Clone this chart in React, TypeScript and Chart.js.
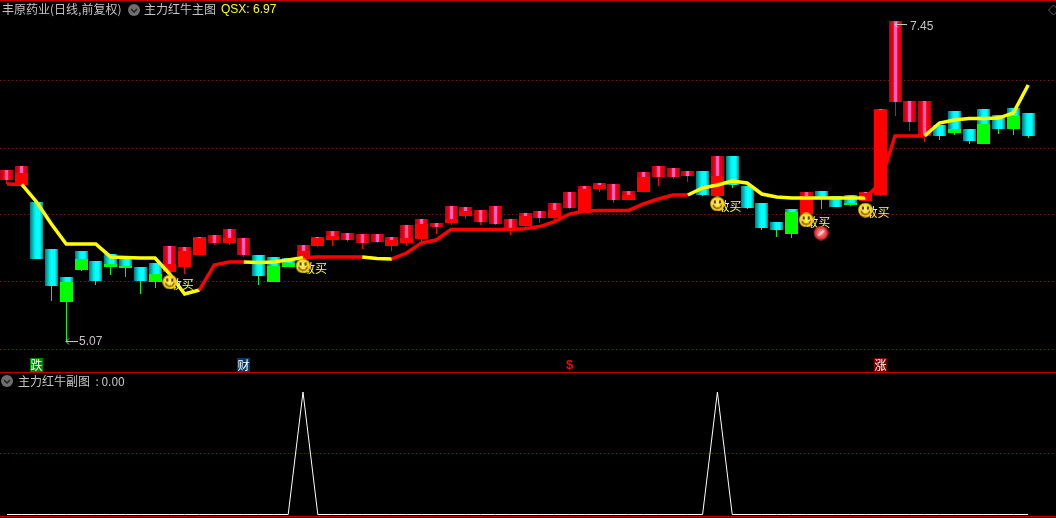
import React, { useEffect, useRef } from "react";
import { Chart, registerables } from "chart.js";

Chart.register(...registerables);

const candleKind = "RRCCCCCCCCCRRRRRRCCCRRRRRRRRRRRRRRRRRRRRRRRRRRRCRCCCCCRCCCRRRRRCCCCCCC".split("");
const bodyHigh = [6.342,6.371,6.104,5.754,5.546,5.739,5.665,5.717,5.695,5.620,5.650,5.776,5.769,5.843,5.858,5.903,5.836,5.710,5.695,5.687,5.784,5.843,5.888,5.873,5.866,5.866,5.843,5.933,5.977,5.947,6.074,6.066,6.044,6.074,5.977,6.022,6.037,6.096,6.178,6.223,6.245,6.237,6.185,6.327,6.371,6.356,6.334,6.334,6.446,6.446,6.223,6.096,5.955,6.052,6.178,6.185,6.148,6.156,6.178,6.795,7.450,6.855,6.855,6.676,6.780,6.647,6.795,6.751,6.803,6.766];
const bodySplit = [6.267,6.319,5.680,5.479,5.509,5.680,5.516,5.642,5.628,5.516,5.568,5.642,5.739,5.836,5.799,5.836,5.710,5.553,5.628,5.650,5.739,5.836,5.851,5.821,5.799,5.806,5.821,5.836,5.940,5.918,5.977,6.037,5.955,5.940,5.910,6.000,5.985,6.044,6.059,6.200,6.230,6.118,6.156,6.290,6.290,6.290,6.297,6.156,6.297,6.230,6.059,5.910,5.895,6.029,6.148,6.133,6.066,6.096,6.171,6.788,6.847,6.699,6.595,6.595,6.647,6.557,6.684,6.647,6.743,6.595];
const bodyLow = [6.267,6.230,5.680,5.479,5.360,5.598,5.516,5.620,5.613,5.516,5.509,5.583,5.620,5.710,5.799,5.799,5.710,5.553,5.509,5.620,5.702,5.776,5.821,5.821,5.799,5.806,5.776,5.799,5.828,5.918,5.947,6.000,5.955,5.940,5.910,5.925,5.985,5.985,6.059,6.022,6.200,6.118,6.118,6.178,6.290,6.290,6.297,6.156,6.148,6.230,6.059,5.910,5.895,5.866,6.014,6.133,6.066,6.081,6.111,6.156,6.847,6.699,6.595,6.595,6.617,6.557,6.535,6.647,6.647,6.595];
const wickLow = [6.237,6.230,5.680,5.367,5.070,5.590,5.486,5.561,5.546,5.419,5.464,5.583,5.568,5.710,5.784,5.784,5.695,5.486,5.509,5.620,5.702,5.769,5.776,5.806,5.754,5.799,5.739,5.776,5.814,5.866,5.933,5.977,5.933,5.933,5.858,5.910,5.947,5.962,6.052,6.022,6.178,6.096,6.118,6.178,6.223,6.275,6.252,6.148,6.148,6.208,6.052,5.895,5.843,5.836,6.014,6.052,6.066,6.074,6.111,6.148,6.743,6.632,6.550,6.565,6.602,6.535,6.535,6.609,6.602,6.580];
const qsxLine = [6.237,6.234,6.104,5.940,5.791,5.791,5.791,5.695,5.691,5.687,5.687,5.568,5.419,5.449,5.635,5.657,5.657,5.654,5.657,5.672,5.691,5.695,5.695,5.695,5.695,5.683,5.680,5.724,5.799,5.821,5.899,5.899,5.899,5.899,5.899,5.905,5.921,5.957,6.014,6.037,6.041,6.041,6.041,6.089,6.126,6.156,6.156,6.208,6.230,6.260,6.245,6.163,6.141,6.133,6.133,6.133,6.133,6.133,6.133,6.245,6.595,6.595,6.595,6.691,6.714,6.725,6.725,6.728,6.766,6.974];
const lineTrend = "RYYYYYYYYYYYYRRRYYYYRRRRYYRRRRRRRRRRRRRRRRRRRRYYYYYYYYYYYYRRRRYYYYYYYY".split("");
const subValues = [0,0,0,0,0,0,0,0,0,0,0,0,0,0,0,0,0,0,0,0,1,0,0,0,0,0,0,0,0,0,0,0,0,0,0,0,0,0,0,0,0,0,0,0,0,0,0,0,1,0,0,0,0,0,0,0,0,0,0,0,0,0,0,0,0,0,0,0,0,0];
const buyIndex = [11, 20, 48, 54, 58];
const buyPrice = [5.509, 5.628, 6.089, 5.970, 6.044];
const ballIndex = [55];
const ballPrice = [5.873];
const mainTicks = [7.004, 6.505, 6.007, 5.509, 5.01];
const subTicks = [0.5];
const tagIndex = [2, 16, 38, 59];
const tagText = ["跌", "财", "$", "涨"];
const tagColor = ["#008000", "#003a70", "", "#800000"];
const highIndex = 60;
const highPrice = 7.45;
const lowIndex = 4;
const lowPrice = 5.07;
const titleStock = "丰原药业(日线,前复权)";
const titleMain = "主力红牛主图";
const titleQsx = "QSX: 6.97";
const titleSub = "主力红牛副图  : 0.00";
const buyText = "敢买";

const CJK = '12px "Noto Sans CJK SC", "Liberation Sans", sans-serif';
const LATIN = '12px "Liberation Sans", Arial, sans-serif';
const GRAY = "#c4c4c4";

function makeSmiley() {
  const c = document.createElement("canvas");
  c.width = 15;
  c.height = 15;
  const g = c.getContext("2d")!;
  const r = g.createRadialGradient(6.5, 6, 1, 7.5, 7.5, 7.5);
  r.addColorStop(0, "#fff060");
  r.addColorStop(0.8, "#f8d020");
  r.addColorStop(1, "#d8a400");
  g.fillStyle = r;
  g.beginPath();
  g.arc(7.5, 7.5, 7.3, 0, Math.PI * 2);
  g.fill();
  g.fillStyle = "#5a3a00";
  g.fillRect(4, 4, 2, 3);
  g.fillRect(9, 4, 2, 3);
  g.strokeStyle = "#5a3a00";
  g.lineWidth = 1.2;
  g.beginPath();
  g.arc(7.5, 7.5, 4.3, 0.2, Math.PI - 0.2);
  g.stroke();
  return c;
}

function makeBall() {
  const c = document.createElement("canvas");
  c.width = 15;
  c.height = 15;
  const g = c.getContext("2d")!;
  const r = g.createRadialGradient(7.5, 7, 1, 7.5, 7.5, 7.5);
  r.addColorStop(0, "#ff9090");
  r.addColorStop(0.7, "#e83840");
  r.addColorStop(1, "#a81820");
  g.fillStyle = r;
  g.beginPath();
  g.arc(7.5, 7.5, 7.3, 0, Math.PI * 2);
  g.fill();
  g.strokeStyle = "#ffe0e0";
  g.lineWidth = 2;
  g.beginPath();
  g.moveTo(4.5, 10);
  g.lineTo(10.5, 5);
  g.stroke();
  return c;
}

function bodyGradient(ctx: any) {
  if (ctx.type !== "data") return "#ff0000";
  const chart = ctx.chart;
  const kind = candleKind[ctx.dataIndex];
  const px = chart.scales.x.getPixelForValue(ctx.dataIndex);
  if (!Number.isFinite(px)) return "#ff0000";
  const x = Math.floor(px);
  const g = chart.ctx.createLinearGradient(x - 6, 0, x + 7, 0);
  if (kind === "R") {
    g.addColorStop(0, "#b00018");
    g.addColorStop(0.2, "#e00010");
    g.addColorStop(0.34, "#ff0000");
    g.addColorStop(0.38, "#ff60c0");
    g.addColorStop(0.62, "#ff60c0");
    g.addColorStop(0.66, "#ff0000");
    g.addColorStop(0.85, "#e00010");
    g.addColorStop(1, "#b00018");
  } else {
    g.addColorStop(0, "#007878");
    g.addColorStop(0.35, "#00e8e8");
    g.addColorStop(0.5, "#00ffff");
    g.addColorStop(0.75, "#00ffff");
    g.addColorStop(1, "#008888");
  }
  return g;
}

function arrow(g: CanvasRenderingContext2D, x: number, y: number) {
  g.strokeStyle = GRAY;
  g.lineWidth = 1;
  g.beginPath();
  g.moveTo(x, y + 0.5);
  g.lineTo(x + 12, y + 0.5);
  g.moveTo(x + 3, y - 2.5);
  g.lineTo(x, y + 0.5);
  g.lineTo(x + 3, y + 3.5);
  g.stroke();
}

function chevronIcon(g: CanvasRenderingContext2D, x: number, y: number) {
  g.fillStyle = "#6e6e6e";
  g.beginPath();
  g.arc(x, y, 6, 0, Math.PI * 2);
  g.fill();
  g.strokeStyle = "#1c1c1c";
  g.lineWidth = 1.3;
  g.beginPath();
  g.moveTo(x - 3, y - 1);
  g.lineTo(x, y + 2);
  g.lineTo(x + 3, y - 1);
  g.stroke();
}

const snapBars = {
  id: "snapBars",
  afterDatasetsUpdate(chart: any) {
    chart.data.datasets.forEach((d: any, i: number) => {
      if (d.type !== "bar") return;
      chart.getDatasetMeta(i).data.forEach((el: any) => {
        el.x = Math.floor(el.x) + 0.5;
        el.y = Math.round(el.y);
        el.base = Math.round(el.base);
      });
    });
  },
};

const overlay = {
  id: "overlay",
  beforeDraw(chart: any) {
    const g = chart.ctx;
    g.save();
    g.fillStyle = "#000";
    g.fillRect(0, 0, chart.width, chart.height);
    g.restore();
  },
  beforeDatasetDraw(chart: any, args: any) {
    if (chart.data.datasets[args.index].id !== "buy") return;
    const g = chart.ctx;
    g.save();
    g.font = CJK;
    g.fillStyle = "#ffff40";
    g.textBaseline = "middle";
    g.textAlign = "left";
    buyIndex.forEach((v, i) => {
      const x = chart.scales.x.getPixelForValue(v);
      const y = chart.scales.y.getPixelForValue(buyPrice[i]);
      g.fillText(buyText, x, y + 2);
    });
    g.restore();
  },
  afterDraw(chart: any) {
    const g = chart.ctx;
    const sx = chart.scales.x;
    const sy = chart.scales.y;
    g.save();
    g.fillStyle = "#c00000";
    g.fillRect(0, 0, 1056, 1);
    g.fillRect(0, 372, 1056, 1);
    g.fillRect(0, 516, 1056, 1);

    g.textBaseline = "middle";
    g.textAlign = "left";
    g.font = CJK;
    g.fillStyle = GRAY;
    g.fillText(titleStock, 2, 9);
    chevronIcon(g, 134, 10);
    g.fillStyle = GRAY;
    g.fillText(titleMain, 144, 9);
    g.font = LATIN;
    g.fillStyle = "#ffff00";
    g.fillText(titleQsx, 221, 10);
    chevronIcon(g, 7, 381);
    g.font = CJK;
    g.fillStyle = GRAY;
    g.fillText(titleSub, 18, 381);

    tagIndex.forEach((v, i) => {
      const x = Math.floor(sx.getPixelForValue(v));
      if (tagColor[i]) {
        g.fillStyle = tagColor[i];
        g.fillRect(x - 6, 358, 13, 14);
        g.fillStyle = "#ffffff";
        g.font = CJK;
      } else {
        g.fillStyle = "#ff0000";
        g.font = 'bold 13px "Liberation Sans", sans-serif';
      }
      g.textAlign = "center";
      g.fillText(tagText[i], x + 0.5, 365);
    });

    g.textAlign = "left";
    g.font = LATIN;
    g.fillStyle = GRAY;
    const hx = Math.floor(sx.getPixelForValue(highIndex));
    const hy = Math.round(sy.getPixelForValue(highPrice));
    arrow(g, hx, hy + 3);
    g.fillStyle = GRAY;
    g.fillText(highPrice.toFixed(2), hx + 15, hy + 6);
    const lx = Math.floor(sx.getPixelForValue(lowIndex));
    const ly = Math.round(sy.getPixelForValue(lowPrice));
    arrow(g, lx, ly);
    g.fillStyle = GRAY;
    g.fillText(lowPrice.toFixed(2), lx + 13, ly + 1);

    g.strokeStyle = "#5c5c5c";
    g.lineWidth = 1;
    g.beginPath();
    g.moveTo(1053.5, 5);
    g.lineTo(1058.5, 10);
    g.lineTo(1053.5, 15);
    g.lineTo(1048.5, 10);
    g.closePath();
    g.stroke();
    g.restore();
  },
};

const xs = (arr: number[][]) => arr.map((y, x) => ({ x, y }));

export default function App() {
  const ref = useRef<HTMLCanvasElement>(null);
  useEffect(() => {
    document.body.style.margin = "0";
    document.body.style.background = "#000";
    const wicks = xs(wickLow.map((l, i) => [l, bodyLow[i]]));
    const flats = xs(bodyLow.map((l, i) => [l, bodySplit[i]]));
    const bodies = xs(bodySplit.map((l, i) => [l, bodyHigh[i]]));
    const chart = new Chart(ref.current as HTMLCanvasElement, {
      type: "bar",
      data: {
        datasets: [
          {
            type: "bar",
            label: "wick",
            data: wicks,
            barThickness: 1,
            grouped: false,
            inflateAmount: 0,
            order: 6,
            backgroundColor: (c: any) => (candleKind[c.dataIndex] === "R" ? "#ff0000" : "#00ff00"),
          },
          {
            type: "bar",
            label: "flat",
            data: flats,
            barThickness: 13,
            grouped: false,
            inflateAmount: 0,
            order: 5,
            backgroundColor: (c: any) => (candleKind[c.dataIndex] === "R" ? "#ff0000" : "#00ff00"),
          },
          {
            type: "bar",
            label: "body",
            data: bodies,
            barThickness: 13,
            grouped: false,
            inflateAmount: 0,
            order: 4,
            backgroundColor: bodyGradient,
          },
          {
            type: "line",
            label: "QSX",
            data: qsxLine.map((y, x) => ({ x, y })),
            borderWidth: 3.5,
            pointRadius: 0,
            tension: 0,
            order: 3,
            borderColor: "#ff0000",
            segment: {
              borderColor: (c: any) => (lineTrend[c.p0DataIndex] === "Y" ? "#ffff00" : "#ff0000"),
            },
          },
          {
            type: "line",
            id: "buy",
            label: "buy",
            data: buyIndex.map((x, i) => ({ x, y: buyPrice[i] })),
            showLine: false,
            order: 2,
            pointStyle: makeSmiley(),
          },
          {
            type: "line",
            label: "ball",
            data: ballIndex.map((x, i) => ({ x, y: ballPrice[i] })),
            showLine: false,
            order: 1,
            pointStyle: makeBall(),
          },
          {
            type: "line",
            label: "sub",
            yAxisID: "y1",
            data: subValues.map((y, x) => ({ x, y })),
            borderColor: "#ffffff",
            borderWidth: 1,
            pointRadius: 0,
            tension: 0,
            order: 0,
          },
        ] as any,
      },
      options: {
        responsive: false,
        animation: false,
        events: [],
        layout: { padding: 0, autoPadding: false },
        plugins: { legend: { display: false }, title: { display: false }, tooltip: { enabled: false } },
        scales: {
          x: { type: "linear", display: false, min: -0.47297, max: 70.878, offset: false },
          y: {
            display: true,
            position: "left",
            min: 7.606 - 0.0074375 * 518,
            max: 7.606,
            afterBuildTicks: (s: any) => {
              s.ticks = mainTicks.map((value) => ({ value }));
            },
            ticks: { display: false },
            border: { display: false, dash: [1, 3] },
            grid: { color: "#8a1414", drawTicks: false, lineWidth: 1 },
          },
          y1: {
            display: true,
            position: "left",
            min: -0.02857,
            max: 4.2,
            afterBuildTicks: (s: any) => {
              s.ticks = subTicks.map((value) => ({ value }));
            },
            ticks: { display: false },
            border: { display: false, dash: [1, 3] },
            grid: { color: "#8a1414", drawTicks: false, lineWidth: 1 },
          },
        },
      } as any,
      plugins: [snapBars, overlay],
    });
    return () => chart.destroy();
  }, []);
  return <canvas ref={ref} width={1056} height={518} style={{ display: "block" }} />;
}
